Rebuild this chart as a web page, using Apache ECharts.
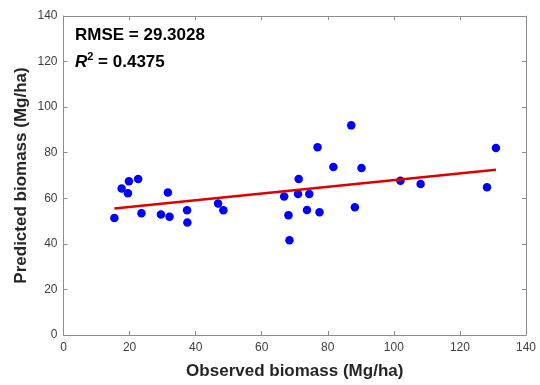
<!DOCTYPE html>
<html><head><meta charset="utf-8">
<script src="https://cdn.jsdelivr.net/npm/echarts@6/dist/echarts.min.js"></script>
<style>html,body{margin:0;padding:0;background:#fff}#c{width:540px;height:385px}</style>
</head><body><div id="c"></div>
<script>
const observed = [15.4,17.6,19.8,19.5,22.6,23.6,29.5,31.6,32.1,37.4,37.5,46.8,48.4,66.8,68.1,68.4,71.2,71.0,74.4,73.7,76.9,77.5,81.7,87.1,88.2,90.2,102.0,108.1,128.2,130.9];
const predicted = [51.3,64.3,67.5,62.2,68.5,53.4,52.9,62.5,51.9,54.8,49.4,57.7,54.7,60.8,52.6,41.6,68.5,61.9,61.9,54.9,82.4,53.9,73.7,92.0,56.1,73.3,67.7,66.3,64.8,82.1];
const fitX = [15.4, 130.9];
const fitY = [55.5, 72.5];
const xTicks = [0,20,40,60,80,100,120,140];
const yTicks = [0,20,40,60,80,100,120,140];
const rmseText = 'RMSE = 29.3028';
const r2Value = '0.4375';

const chart = echarts.init(document.getElementById('c'), null, {renderer:'canvas'});
const font = 'Liberation Sans, Arial, sans-serif';
function axisCommon() {
  return {
    type: 'value', min: 0, max: 140, interval: 20,
    axisLine: {show: true, onZero: false, lineStyle: {color: '#8c8c8c', width: 1}},
    axisTick: {show: true, inside: true, length: 4, lineStyle: {color: '#8c8c8c'}},
    splitLine: {show: false}
  };
}
chart.setOption({
  animation: false,
  grid: {left: 63.5, right: 14, top: 16, bottom: 47.5},
  xAxis: [
    Object.assign(axisCommon(), {position: 'bottom',
      name: 'Observed biomass (Mg/ha)', nameLocation: 'middle', nameGap: 28,
      nameTextStyle: {fontFamily: font, fontSize: 17, fontWeight: 'bold', color: '#262626'},
      axisLabel: {fontFamily: font, fontSize: 12, color: '#404040', margin: 7,
        formatter: v => xTicks.includes(v) ? String(v) : ''}}),
    Object.assign(axisCommon(), {position: 'top', axisLabel: {show: false}})
  ],
  yAxis: [
    Object.assign(axisCommon(), {position: 'left',
      name: 'Predicted biomass (Mg/ha)', nameLocation: 'middle', nameGap: 34, nameMoveOverlap: false,
      nameTextStyle: {fontFamily: font, fontSize: 17, fontWeight: 'bold', color: '#262626'},
      axisLabel: {fontFamily: font, fontSize: 12, color: '#404040', margin: 6,
        formatter: v => yTicks.includes(v) ? String(v) : ''}}),
    Object.assign(axisCommon(), {position: 'right', axisLabel: {show: false}})
  ],
  series: [
    {type: 'scatter', xAxisIndex: 0, yAxisIndex: 0, symbol: 'circle', symbolSize: 8.5,
      itemStyle: {color: '#0000ff', opacity: 1}, z: 3,
      data: observed.map((x, i) => [x, predicted[i]])},
    {type: 'line', xAxisIndex: 0, yAxisIndex: 0, symbol: 'none', z: 4,
      lineStyle: {color: '#e00000', width: 2.5},
      data: fitX.map((x, i) => [x, fitY[i]])}
  ],
  graphic: [
    {type: 'text', left: 75, top: 27, style: {text: rmseText, fontFamily: font, fontSize: 17, fontWeight: 'bold', fill: '#000'}},
    {type: 'text', left: 75, top: 51, style: {
      text: '{r|R}{s|2}{n| = ' + r2Value + '}',
      rich: {
        r: {fontFamily: font, fontSize: 17, fontWeight: 'bold', fontStyle: 'italic', fill: '#000', verticalAlign: 'bottom'},
        s: {fontFamily: font, fontSize: 11, fontWeight: 'bold', fill: '#000', verticalAlign: 'top', padding: [0,0,9,0]},
        n: {fontFamily: font, fontSize: 17, fontWeight: 'bold', fill: '#000', verticalAlign: 'bottom'}
      }}}
  ]
});
</script></body></html>
